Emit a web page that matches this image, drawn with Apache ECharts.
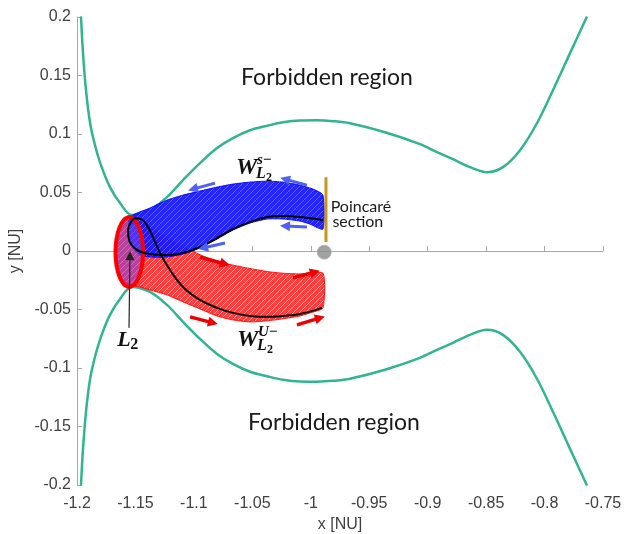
<!DOCTYPE html>
<html>
<head>
<meta charset="utf-8">
<script src="https://cdn.jsdelivr.net/npm/echarts/dist/echarts.min.js"></script>
<style>html,body{margin:0;padding:0;background:#fff;}#chart{width:626px;height:534px;}</style>
</head>
<body>
<div id="chart"></div>
<script>
// ---- zero-velocity curve (upper / lower branches) ----
const zvcX = [-1.1966,-1.1949,-1.1923,-1.1889,-1.1846,-1.1795,-1.1718,-1.1632,-1.1530,-1.1376,-1.1230,-1.1093,-1.0948,-1.0802,-1.0666,-1.0520,-1.0375,-1.0238,-1.0092,-0.9947,-0.9810,-0.9665,-0.9365,-0.9066,-0.8920,-0.8784,-0.8638,-0.8493,-0.8356,-0.8210,-0.8065,-0.7928,-0.7783,-0.7637];
const zvcUpperY = [0.2005,0.1698,0.1374,0.1101,0.0904,0.0734,0.0546,0.0410,0.0307,0.0350,0.0461,0.0606,0.0751,0.0880,0.0965,0.1032,0.1070,0.1100,0.1115,0.1117,0.1110,0.1092,0.1015,0.0913,0.0845,0.0785,0.0717,0.0674,0.0717,0.0862,0.1092,0.1374,0.1689,0.2005];
const zvcLowerY = [-0.2005,-0.1698,-0.1374,-0.1101,-0.0904,-0.0734,-0.0546,-0.0410,-0.0307,-0.0350,-0.0461,-0.0606,-0.0751,-0.0880,-0.0965,-0.1032,-0.1070,-0.1100,-0.1115,-0.1117,-0.1110,-0.1092,-0.1015,-0.0913,-0.0845,-0.0785,-0.0717,-0.0674,-0.0717,-0.0862,-0.1092,-0.1374,-0.1689,-0.2005];

// ---- stable manifold tube (blue) ----
const blueTopX = [-1.1547,-1.1376,-1.1230,-1.1093,-1.0948,-1.0802,-1.0666,-1.0520,-1.0375,-1.0238,-1.0092,-0.9981,-0.9896];
const blueTopY = [0.0290,0.0367,0.0435,0.0478,0.0512,0.0546,0.0572,0.0589,0.0597,0.0589,0.0563,0.0529,0.0478];
const blueBotX = [-0.9896,-1.0007,-1.0092,-1.0238,-1.0375,-1.0520,-1.0666,-1.0802,-1.0948,-1.1093,-1.1230,-1.1376,-1.1461,-1.1521,-1.1555];
const blueBotY = [0.0188,0.0230,0.0256,0.0273,0.0273,0.0239,0.0179,0.0102,0.0026,-0.0026,-0.0051,-0.0051,-0.0034,0.0026,0.0137];

// ---- unstable manifold tube (red) ----
const redTopX = [-1.1547,-1.1461,-1.1376,-1.1247,-1.1119,-1.0991,-1.0862,-1.0691,-1.0520,-1.0375,-1.0238,-1.0092,-0.9896];
const redTopY = [0.0290,0.0247,0.0196,0.0120,0.0050,-0.0010,-0.0070,-0.0115,-0.0150,-0.0175,-0.0190,-0.0196,-0.0190];
const redBotX = [-0.9896,-1.0007,-1.0092,-1.0238,-1.0375,-1.0520,-1.0666,-1.0802,-1.0948,-1.1093,-1.1230,-1.1376,-1.1461,-1.1547,-1.1615,-1.1649,-1.1658,-1.1641,-1.1607];
const redBotY = [-0.0486,-0.0529,-0.0555,-0.0580,-0.0597,-0.0606,-0.0589,-0.0555,-0.0495,-0.0435,-0.0375,-0.0333,-0.0307,-0.0290,-0.0247,-0.0119,0.0009,0.0137,0.0239];

// ---- periodic orbit around L2 ----
const orbitX = [-1.1435,-1.1444,-1.1470,-1.1508,-1.1553,-1.1598,-1.1636,-1.1662,-1.1671,-1.1662,-1.1636,-1.1598,-1.1553,-1.1508,-1.1470,-1.1444];
const orbitY = [-0.0009,0.0105,0.0202,0.0267,0.0290,0.0267,0.0202,0.0105,-0.0009,-0.0123,-0.0220,-0.0285,-0.0308,-0.0285,-0.0220,-0.0123];

// ---- highlighted trajectory (black) ----
const trajX = [-0.9896,-1.0092,-1.0238,-1.0375,-1.0520,-1.0666,-1.0802,-1.0948,-1.1093,-1.1230,-1.1376,-1.1487,-1.1555,-1.1564,-1.1538,-1.1500,-1.1455,-1.1405,-1.1350,-1.1290,-1.1204,-1.1093,-1.0948,-1.0802,-1.0666,-1.0520,-1.0375,-1.0238,-1.0092,-0.9904];
const trajY = [0.0265,0.0290,0.0299,0.0290,0.0247,0.0188,0.0111,0.0034,-0.0017,-0.0034,-0.0026,0.0009,0.0094,0.0179,0.0247,0.0280,0.0275,0.0225,0.0119,-0.0017,-0.0162,-0.0307,-0.0418,-0.0486,-0.0529,-0.0555,-0.0563,-0.0555,-0.0538,-0.0486];

// ---- flow-direction arrows: tail (x,y) -> head (x,y) ----
const blueArrowFrom = [[-1.0820,0.0580],[-1.0033,0.0563],[-1.0033,0.0205],[-1.0734,0.0068]];
const blueArrowTo   = [[-1.1008,0.0529],[-1.0221,0.0614],[-1.0221,0.0213],[-1.0922,0.0026]];
const redArrowFrom  = [[-1.0948,-0.0051],[-1.0152,-0.0230],[-1.1033,-0.0563],[-1.0118,-0.0631]];
const redArrowTo    = [[-1.0734,-0.0111],[-0.9964,-0.0179],[-1.0837,-0.0614],[-0.9921,-0.0572]];

// ---- Poincaré section, Moon, L2 pointer ----
const sectionX = [-0.9870,-0.9870];
const sectionY = [0.0631,0.0077];
const moon = [-0.9885,-0.0010];
const l2PointerFrom = [-1.1555,-0.0657];
const l2PointerTo = [-1.1547,-0.0040];

// ---- text annotations ----
const plainTexts = ['Forbidden region','Forbidden region','Poincaré','section'];
const plainTextX = [-0.9861,-0.9802,-0.9830,-0.9815];
const plainTextY = [0.1485,-0.1468,0.0375,0.0247];
const mathLabels = [['W','s\u2212'],['W','U\u2212'],['L','']];
const mathLabelX = [-1.0640,-1.0632,-1.1655];
const mathLabelY = [0.0710,-0.0762,-0.0762];

const zip = (xs, ys) => xs.map((x, i) => [x, ys[i]]);

function meshPattern(base, line, alpha) {
  const c = document.createElement('canvas');
  c.width = 6; c.height = 6;
  const g = c.getContext('2d');
  g.fillStyle = base; g.fillRect(0, 0, 6, 6);
  g.strokeStyle = line; g.globalAlpha = alpha; g.lineWidth = 1;
  g.beginPath(); g.moveTo(0, 6); g.lineTo(6, 0); g.stroke();
  g.beginPath(); g.moveTo(-3, 3); g.lineTo(3, -3); g.stroke();
  g.beginPath(); g.moveTo(3, 9); g.lineTo(9, 3); g.stroke();
  return { image: c, repeat: 'repeat' };
}

function polygonSeries(xs, ys, style, z) {
  return {
    type: 'custom', silent: true, z: z, clip: true,
    data: [[xs[0], ys[0]]],
    renderItem: function (params, api) {
      return { type: 'polygon', shape: { points: xs.map((x, i) => api.coord([x, ys[i]])), smooth: 0.2 }, style: style };
    }
  };
}

const chart = echarts.init(document.getElementById('chart'), null, { renderer: 'canvas' });

const axisFont = { fontFamily: 'Liberation Sans, Arial, Helvetica, sans-serif', fontSize: 16, color: '#404040' };

chart.setOption({
  animation: false,
  backgroundColor: '#ffffff',
  grid: { left: 77, right: 23, top: 17, bottom: 49, containLabel: false, outerBoundsMode: 'none' },
  xAxis: {
    type: 'value', min: -1.2, max: -0.75, interval: 0.05,
    name: 'x [NU]', nameLocation: 'middle', nameGap: 30,
    nameTextStyle: axisFont,
    axisLine: { lineStyle: { color: '#a8a8a8', width: 1 } },
    axisTick: { inside: true, length: 5, lineStyle: { color: '#a8a8a8' } },
    axisLabel: Object.assign({ margin: 11 }, axisFont),
    splitLine: { show: false }
  },
  yAxis: {
    type: 'value', min: -0.2, max: 0.2, interval: 0.05,
    name: 'y [NU]', nameLocation: 'middle', nameGap: 50, nameRotate: 90,
    nameTextStyle: axisFont,
    axisLine: { lineStyle: { color: '#a8a8a8', width: 1 } },
    axisTick: { inside: true, length: 5, lineStyle: { color: '#a8a8a8' } },
    axisLabel: Object.assign({ margin: 6 }, axisFont),
    splitLine: { show: false }
  },
  series: [
    { type: 'line', data: zip(zvcX, zvcUpperY), smooth: 0.35, showSymbol: false, silent: true, z: 2,
      lineStyle: { color: '#30b492', width: 2.5 } },
    { type: 'line', data: zip(zvcX, zvcLowerY), smooth: 0.35, showSymbol: false, silent: true, z: 2,
      lineStyle: { color: '#30b492', width: 2.5 } },
    polygonSeries(redTopX.concat(redBotX), redTopY.concat(redBotY), { fill: meshPattern('#ff4040', '#ffffff', 0.55), stroke: 'rgba(255,0,0,0.9)', lineWidth: 1 }, 3),
    polygonSeries(blueTopX.concat(blueBotX), blueTopY.concat(blueBotY), { fill: meshPattern('#1a1aff', '#ffffff', 0.28), stroke: 'rgba(0,0,255,0.95)', lineWidth: 1, opacity: 0.95 }, 4),
    polygonSeries(orbitX, orbitY, { fill: 'rgba(120,70,230,0.55)', stroke: '#ff0000', lineWidth: 4 }, 5),
    { type: 'line', data: zip(trajX, trajY), smooth: 0.4, showSymbol: false, silent: true, z: 6,
      lineStyle: { color: '#000000', width: 2 } },
    { type: 'lines', coordinateSystem: 'cartesian2d', silent: true, z: 7,
      symbol: ['none', 'triangle'], symbolSize: 10,
      lineStyle: { color: '#4f60f5', width: 3, opacity: 1 },
      data: blueArrowFrom.map((p, i) => ({ coords: [p, blueArrowTo[i]] })) },
    { type: 'lines', coordinateSystem: 'cartesian2d', silent: true, z: 7,
      symbol: ['none', 'triangle'], symbolSize: 10,
      lineStyle: { color: '#ee0000', width: 3.5, opacity: 1 },
      data: redArrowFrom.map((p, i) => ({ coords: [p, redArrowTo[i]] })) },
    { type: 'line', data: zip(sectionX, sectionY), showSymbol: false, silent: true, z: 8,
      lineStyle: { color: '#c8961e', width: 3 } },
    { type: 'scatter', data: [moon], symbolSize: 14, silent: true, z: 9,
      itemStyle: { color: '#8a8a8a', borderColor: '#b0b0b0', borderWidth: 1 } },
    { type: 'lines', coordinateSystem: 'cartesian2d', silent: true, z: 9,
      symbol: ['none', 'triangle'], symbolSize: 9,
      lineStyle: { color: '#222222', width: 1.2, opacity: 1 },
      data: [{ coords: [l2PointerFrom, l2PointerTo] }] },
    { type: 'custom', silent: true, z: 10, clip: false,
      data: plainTexts.map((t, i) => [plainTextX[i], plainTextY[i], i]),
      renderItem: function (params, api) {
        const i = api.value(2);
        const p = api.coord([api.value(0), api.value(1)]);
        const big = i < 2;
        return { type: 'text', x: p[0], y: p[1], style: {
          text: plainTexts[i], fontFamily: 'Lato', fontSize: big ? 23 : 16,
          fill: '#1a1a1a', align: big ? 'center' : 'left', verticalAlign: 'middle' } };
      } },
    { type: 'custom', silent: true, z: 10, clip: false,
      data: mathLabels.map((t, i) => [mathLabelX[i], mathLabelY[i], i]),
      renderItem: function (params, api) {
        const i = api.value(2);
        const p = api.coord([api.value(0), api.value(1)]);
        const lab = mathLabels[i];
        const serif = 'Liberation Serif';
        const kids = [];
        if (lab[0] === 'W') {
          kids.push({ type: 'text', x: p[0], y: p[1], style: { text: 'W', fontFamily: serif, fontWeight: 'bold', fontStyle: 'italic', fontSize: 24, fill: '#111', verticalAlign: 'middle' } });
          kids.push({ type: 'text', x: p[0] + 21, y: p[1] - 8, style: { text: lab[1], fontFamily: serif, fontWeight: 'bold', fontStyle: 'italic', fontSize: 15, fill: '#111', verticalAlign: 'middle' } });
          kids.push({ type: 'text', x: p[0] + 20, y: p[1] + 6, style: { text: 'L', fontFamily: serif, fontWeight: 'bold', fontStyle: 'italic', fontSize: 16, fill: '#111', verticalAlign: 'middle' } });
          kids.push({ type: 'text', x: p[0] + 30, y: p[1] + 10, style: { text: '2', fontFamily: serif, fontWeight: 'bold', fontSize: 12, fill: '#111', verticalAlign: 'middle' } });
        } else {
          kids.push({ type: 'text', x: p[0], y: p[1], style: { text: 'L', fontFamily: serif, fontWeight: 'bold', fontStyle: 'italic', fontSize: 22, fill: '#111', verticalAlign: 'middle' } });
          kids.push({ type: 'text', x: p[0] + 13, y: p[1] + 5, style: { text: '2', fontFamily: serif, fontWeight: 'bold', fontSize: 16, fill: '#111', verticalAlign: 'middle' } });
        }
        return { type: 'group', children: kids };
      } }
  ]
});
</script>
</body>
</html>
